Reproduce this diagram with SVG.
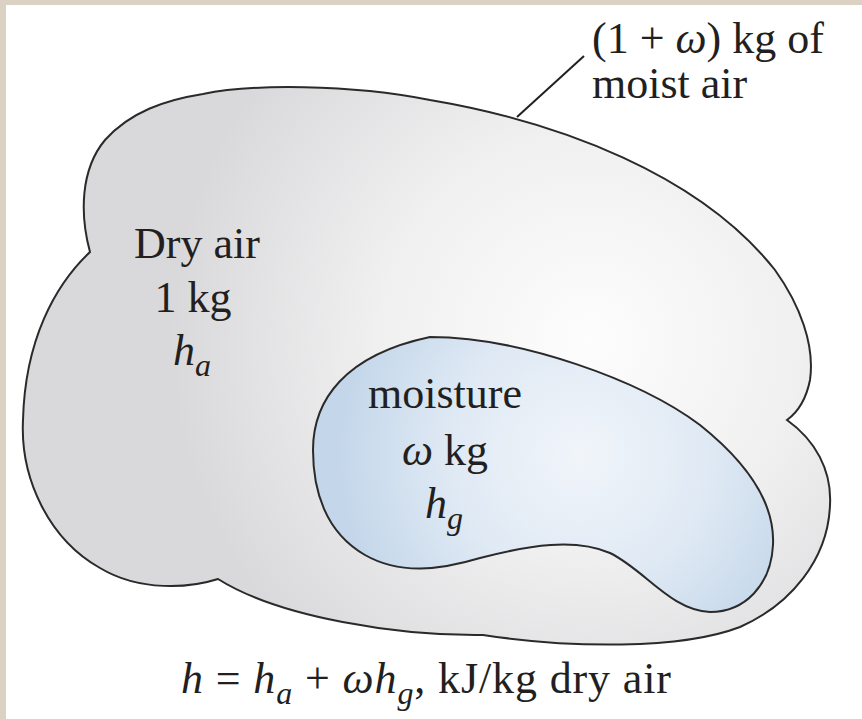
<svg xmlns="http://www.w3.org/2000/svg" width="862" height="719" viewBox="0 0 862 719">
<style>
.t{font-family:"Liberation Serif","Times New Roman",serif;font-size:44px;fill:#231f20}
.i{font-style:italic}
.sub{font-size:32px;font-style:italic}
.edge{stroke:#231f20;stroke-width:2;fill:none}
.blob{stroke:#2a2a2a;stroke-width:2}
</style>
<defs>
<radialGradient id="gAir" gradientUnits="userSpaceOnUse" cx="590" cy="340" r="420">
<stop offset="0" stop-color="#fdfdfd"/>
<stop offset="0.5" stop-color="#f0f0f1"/>
<stop offset="1" stop-color="#d9d9db"/>
</radialGradient>
<radialGradient id="gWater" gradientUnits="userSpaceOnUse" cx="580" cy="455" r="240">
<stop offset="0" stop-color="#f1f5fa"/>
<stop offset="0.55" stop-color="#dfe9f4"/>
<stop offset="1" stop-color="#c4d7ea"/>
</radialGradient>
</defs>
<rect x="0" y="0" width="862" height="719" fill="#ffffff"/>
<rect x="0" y="0" width="862" height="5" fill="#dcd2c3"/>
<rect x="0" y="0" width="6" height="719" fill="#dcd2c3"/>
<g id="moist-air">
<path class="blob" fill="url(#gAir)" d="M203,94 C250,84 350,84 430,100 C560,122 700,175 775,270 C800,305 815,345 810,380 C806,400 798,412 787,420 C815,440 832,470 830,505 C828,560 790,605 740,627 C680,650 570,648 483,635 C400,636 280,618 218,579 C190,588 140,592 100,568 C50,540 20,480 23,420 C25,340 55,285 90,252 C80,215 80,170 105,140 C130,112 165,100 203,94 Z"/>
<text class="t" x="197" y="258" text-anchor="middle">Dry air</text>
<text class="t" x="193" y="312" text-anchor="middle">1 kg</text>
<text class="t" x="173" y="365"><tspan class="i">h</tspan><tspan class="sub" dy="11">a</tspan></text>
</g>
<g id="moisture">
<path class="blob" fill="url(#gWater)" d="M430,337 C520,337 640,380 700,425 C750,465 775,505 773,545 C771,585 745,612 710,612 C670,610 645,570 610,553 C575,538 530,545 480,558 C440,570 400,575 365,555 C325,532 313,490 313,450 C313,400 345,355 430,337 Z"/>
<text class="t" x="445" y="408" text-anchor="middle">moisture</text>
<text class="t" x="445" y="465" text-anchor="middle"><tspan class="i">ω</tspan> kg</text>
<text class="t" x="425" y="518"><tspan class="i">h</tspan><tspan class="sub" dy="11">g</tspan></text>
</g>
<g id="connectors">
<line class="edge" x1="517" y1="117" x2="584" y2="56"/>
</g>
<g id="labels">
<text class="t" x="592" y="53">(1 + <tspan class="i">ω</tspan>) kg of</text>
<text class="t" x="592" y="98">moist air</text>
<text class="t" x="181" y="693" textLength="490"><tspan class="i">h</tspan> = <tspan class="i">h</tspan><tspan class="sub" dy="11">a</tspan><tspan dy="-11"> + </tspan><tspan class="i">ωh</tspan><tspan class="sub" dy="11">g</tspan><tspan dy="-11">, kJ/kg dry air</tspan></text>
</g>
</svg>
